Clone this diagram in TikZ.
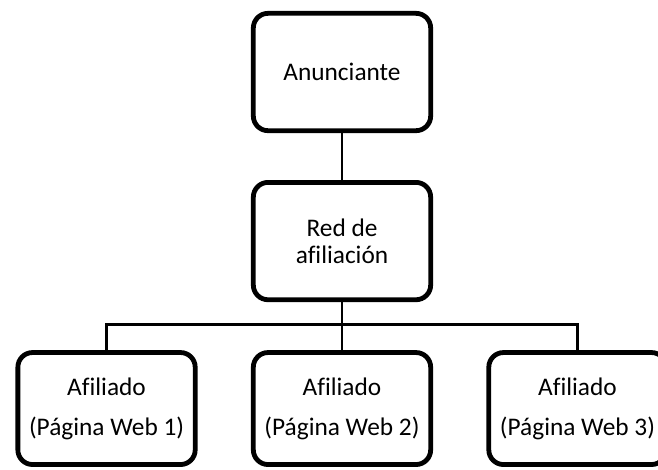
\documentclass[tikz,border=0pt]{standalone}
\usepackage{fontspec}
\setmainfont{Carlito}[Ligatures=NoCommon]
\usetikzlibrary{positioning,shadows}
\tikzset{
  basic/.style  = {draw, line width=3.6pt, rounded corners=11pt, fill=white,
                   align=center, font=\fontsize{19}{20.5}\selectfont,
                   drop shadow={shadow xshift=1.2pt, shadow yshift=-1.2pt,
                                opacity=0.25}},
  upper/.style  = {basic, minimum width=133pt, minimum height=88pt},
  lower/.style  = {basic, minimum width=133pt, minimum height=84pt},
  link/.style   = {line width=2.2pt}
}

\begin{document}
\begin{tikzpicture}
\useasboundingbox (0,0) rectangle (493.5pt,-351.75pt);

% upper levels
\node[upper] (anun) at (256.5pt,-54pt) {Anunciante};
\node[upper, below=35.2pt of anun] (red) {Red de\\afiliación};

% the affiliates, placed next to the middle one
\node[lower, below=36pt of red] (web2) {Afiliado\\[9.5pt](Página Web 2)};
\node[lower, left=40pt of web2] (web1) {Afiliado\\[9.5pt](Página Web 1)};
\node[lower, right=40pt of web2] (web3) {Afiliado\\[9.5pt](Página Web 3)};

\draw[link] (anun) -- (red);
\draw[link] (red) -- (web2);
\draw[link] (web1.north) -- ++(0,19.5pt) -| (web3.north);
\end{tikzpicture}
\end{document}
